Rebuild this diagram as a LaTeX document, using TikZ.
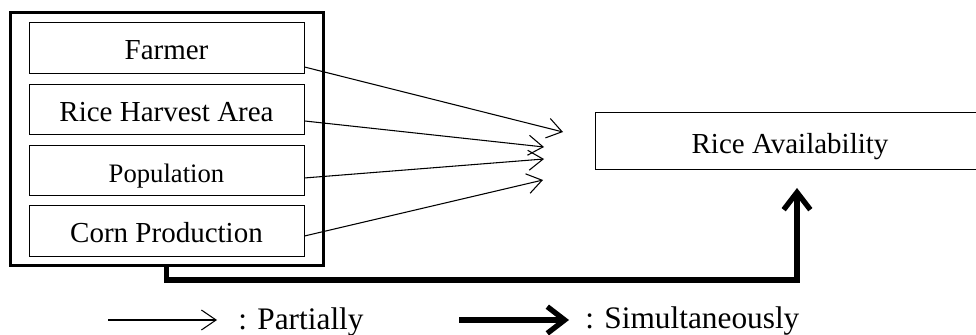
\documentclass[tikz,border=0pt]{standalone}
\usepackage{fontspec}
\setmainfont{Liberation Serif}
\usetikzlibrary{arrows.meta}
\begin{document}
\begin{tikzpicture}[x=0.75pt,y=-0.75pt,
 box/.style={draw, line width=0.75pt, minimum width=206.25pt, minimum height=37.9pt, inner sep=0pt, text height=18.5pt, text depth=0.5pt, font=\fontsize{21.75}{26}\selectfont},
 thinarr/.style={line width=0.8pt, -{Straight Barb[length=11pt,width=15pt]}},
 thickarr/.style={line width=4pt, -{Straight Barb[length=13pt,width=20pt]}},
 legend/.style={anchor=base west, inner sep=0pt, font=\fontsize{23.5}{28}\selectfont}]
\useasboundingbox (0,0) rectangle (976,335);
\clip (0,0) rectangle (976,335);
% outer frame
\node[draw, line width=2.25pt, minimum width=234.75pt, minimum height=189pt, inner sep=0pt] (outer) at (166.5,139) {};
% inner boxes
\node[box] (farmer) at (166.5,48) {Farmer};
\node[box] (rha) at (166.5,109.5) {Rice Harvest Area};
\node[box, font=\fontsize{20}{24}\selectfont] (pop) at (166.5,170.5) {Population};
\node[box] (corn) at (166.5,231) {Corn Production};
% target (its right side runs off the picture)
\node[box, minimum width=311.25pt, minimum height=42.75pt] (rice) at (802.5,141.5) {};
\node[box, draw=none, minimum width=0pt, minimum height=0pt] (ricetext) at (790,141.5) {Rice Availability};
% free ends
\coordinate (t1) at (563,132);
\coordinate (t2) at (544,147);
\coordinate (t3) at (544,159);
\coordinate (t4) at (543,180);
\coordinate (tip) at (797,188);
\coordinate (bend) at (797,280);
% partial arrows
\draw[thinarr] ([yshift=-14.25pt]farmer.east) -- (t1);
\draw[thinarr] ([yshift=-8.6pt]rha.east) -- (t2);
\draw[thinarr] ([yshift=-5.6pt]pop.east) -- (t3);
\draw[thinarr] ([yshift=-3.75pt]corn.east) -- (t4);
% simultaneous arrow
\draw[thickarr] (outer.south) -- (outer.south |- bend) -- (bend) -- (tip);
% legend
\coordinate (la) at (108,320);
\coordinate (lb) at (217,320);
\coordinate (lc) at (459,320);
\coordinate (ld) at (569,320);
\draw[thinarr] (la) -- (lb);
\node[legend] (lp) at (238,329) {: Partially};
\draw[thickarr] (lc) -- (ld);
\node[legend] (ls) at (585,328) {: Simultaneously};
\end{tikzpicture}
\end{document}
